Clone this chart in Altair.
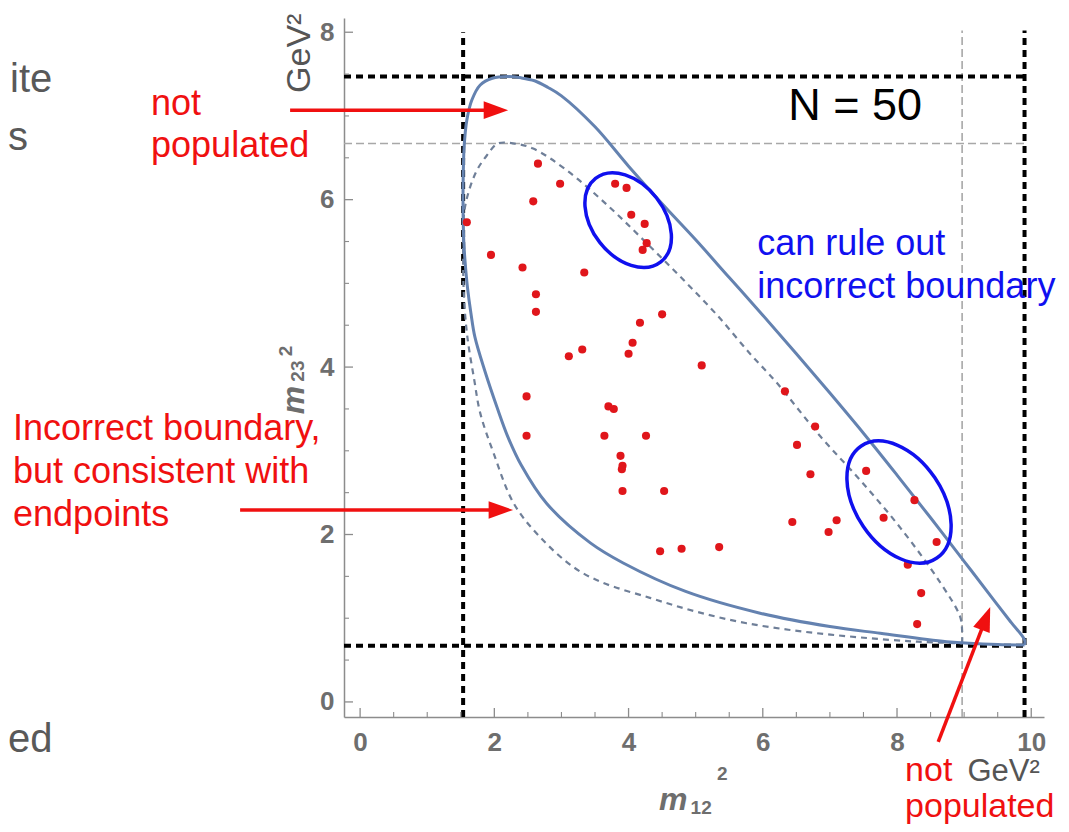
import altair as alt
import pandas as pd

# ---------------- data ----------------
# outer (solid) Dalitz boundary, traced around the contour
outer_x = [9.90, 9.90, 9.70, 9.44, 9.00, 8.50, 8.00, 7.50, 7.00, 6.50, 6.00, 5.50, 5.00, 4.50,
           4.00, 3.50, 3.00, 2.80, 2.60, 2.40, 2.20, 1.97, 1.79, 1.665, 1.59, 1.55, 1.535,
           1.535, 1.545, 1.565, 1.60, 1.65, 1.71, 1.86, 2.04, 2.20, 2.40, 2.78, 3.43, 3.92,
           4.85, 5.96, 7.00, 7.75, 8.74, 9.50, 9.90]
outer_y = [0.68, 0.74, 0.95, 1.22, 1.68, 2.20, 2.71, 3.21, 3.69, 4.16, 4.62, 5.07, 5.52, 5.95,
           6.40, 6.87, 7.24, 7.34, 7.42, 7.455, 7.47, 7.45, 7.37, 7.19, 6.95, 6.63, 6.20,
           5.80, 5.50, 5.25, 4.95, 4.65, 4.36, 3.95, 3.52, 3.17, 2.83, 2.37, 1.90, 1.66,
           1.32, 1.06, 0.90, 0.82, 0.72, 0.685, 0.68]

# inner (dashed) "incorrect" boundary
inner_x = [8.97, 8.97, 8.94, 8.64, 8.05, 7.45, 6.86, 6.20, 5.81, 5.32, 4.82, 4.32, 3.73, 3.08,
           2.58, 2.30, 2.05, 1.89, 1.74, 1.62, 1.55, 1.535, 1.55, 1.60, 1.70, 1.79, 1.99, 2.29,
           2.68, 3.18, 3.60, 4.33, 5.00, 5.76, 6.60, 7.46, 8.30, 8.97]
inner_y = [0.70, 0.85, 1.02, 1.43, 2.08, 2.65, 3.17, 3.82, 4.16, 4.62, 5.04, 5.44, 5.90, 6.35,
           6.61, 6.67, 6.67, 6.53, 6.35, 6.10, 5.84, 5.30, 4.80, 4.35, 3.85, 3.45, 2.97, 2.37,
           1.97, 1.61, 1.43, 1.24, 1.08, 0.94, 0.84, 0.77, 0.72, 0.70]

# N = 50 events
pts_x = [2.65, 2.98, 3.80, 3.97, 2.58, 4.04, 1.59, 4.24, 4.27, 4.21,
         1.95, 2.42, 3.34, 2.62, 2.62, 4.50, 4.17, 4.06, 4.00, 3.31,
         3.11, 5.09, 2.48, 3.70, 3.78, 2.48, 3.64, 4.26, 3.88, 3.91,
         3.91, 4.53, 4.47, 4.79, 5.35, 6.33, 6.78, 6.51, 6.71, 7.54,
         6.44, 7.10, 6.98, 8.26, 7.80, 8.59, 8.16, 8.36, 8.30, 3.90]
pts_y = [6.43, 6.19, 6.19, 6.14, 5.98, 5.82, 5.73, 5.71, 5.48, 5.40,
         5.34, 5.19, 5.13, 4.87, 4.66, 4.63, 4.53, 4.29, 4.16, 4.21,
         4.13, 4.02, 3.65, 3.53, 3.50, 3.18, 3.18, 3.18, 2.94, 2.82,
         2.52, 2.52, 1.80, 1.83, 1.85, 3.71, 3.29, 3.07, 2.72, 2.76,
         2.15, 2.17, 2.03, 2.41, 2.20, 1.91, 1.64, 1.30, 0.93, 2.78]

# kinematic endpoint lines
black_h_y = [7.47, 0.67]
black_v_x = [1.535, 9.90]
gray_h_y = [6.67]
gray_v_x = [8.97]

# axis tick values
x_labels = [0, 2, 4, 6, 8, 10]
y_labels = [0, 2, 4, 6, 8]
x_minor = [0.5, 1, 1.5, 2.5, 3, 3.5, 4.5, 5, 5.5, 6.5, 7, 7.5, 8.5, 9, 9.5]
y_minor = [0.5, 1, 1.5, 2.5, 3, 3.5, 4.5, 5, 5.5, 6.5, 7, 7.5]

# annotation texts (position in plot units)
red_text = ["not", "populated", "Incorrect boundary,", "but consistent with", "endpoints"]
red_tx = [-3.115, -3.115, -5.171, -5.171, -5.171]
red_ty = [7.009, 6.507, 3.128, 2.615, 2.101]
red2_text = ["not", "populated"]
red2_tx = [8.12, 8.12]
red2_ty = [-0.943, -1.373]
blue_text = ["can rule out", "incorrect boundary"]
blue_tx = [5.917, 5.917]
blue_ty = [5.337, 4.824]
frag_text = ["ite", "s", "ed"]
frag_tx = [-5.216, -5.246, -5.246]
frag_ty = [7.284, 6.591, -0.597]

# arrows: tail, shaft end, tip, head angle
arr_x1 = [-1.043, -1.788, 8.614]
arr_y1 = [7.069, 2.293, -0.478]
arr_x2 = [1.908, 1.982, 9.282]
arr_y2 = [7.069, 2.293, 0.911]
tip_x = [2.206, 2.280, 9.389]
tip_y = [7.069, 2.293, 1.134]
tip_ang = [0, 0, 291]

# ellipses highlighting points near the boundary
ell_x = [3.994, 8.03]
ell_y = [5.755, 2.388]

# ---------------- chart ----------------
XMIN, XMAX = -0.24, 10.19
YMIN, YMAX = -0.18, 8.17
XS = alt.Scale(domain=[XMIN, XMAX], nice=False, zero=False)
YS = alt.Scale(domain=[YMIN, YMAX], nice=False, zero=False)
FONT = "Liberation Sans"

axis_common = dict(
    ticks=False, grid=False, title=None, labelFont=FONT, labelFontSize=26,
    labelFontWeight="bold", labelColor="#6e6e6e", domainColor="#8c8c8c", domainWidth=1.5,
    labelOverlap=False, labelFlush=False, format="d",
)
XA = alt.Axis(values=x_labels, labelPadding=12, **axis_common)
YA = alt.Axis(values=y_labels, labelPadding=10, **axis_common)


def X(f):
    return alt.X(f, type="quantitative", scale=XS, axis=XA)


def Y(f):
    return alt.Y(f, type="quantitative", scale=YS, axis=YA)


outer = pd.DataFrame({"x": outer_x, "y": outer_y, "i": range(len(outer_x))})
inner = pd.DataFrame({"x": inner_x, "y": inner_y, "i": range(len(inner_x))})
pts = pd.DataFrame({"x": pts_x, "y": pts_y})

bh = pd.DataFrame({"y": black_h_y, "x1": [XMIN] * 2, "x2": [9.9] * 2})
bv = pd.DataFrame({"x": black_v_x, "y1": [YMIN] * 2, "y2": [8.0, 8.02]})
gh = pd.DataFrame({"y": gray_h_y, "x1": [XMIN], "x2": [9.9]})
gv = pd.DataFrame({"x": gray_v_x, "y1": [YMIN], "y2": [8.02]})

black_h = alt.Chart(bh).mark_rule(color="black", strokeWidth=4, strokeDash=[7, 5]).encode(
    x=X("x1"), x2="x2", y=Y("y"))
black_v = alt.Chart(bv).mark_rule(color="black", strokeWidth=4, strokeDash=[7, 5]).encode(
    x=X("x"), y=Y("y1"), y2="y2")
gray_h = alt.Chart(gh).mark_rule(color="#a8a8a8", strokeWidth=1.6, strokeDash=[8, 4]).encode(
    x=X("x1"), x2="x2", y=Y("y"))
gray_v = alt.Chart(gv).mark_rule(color="#a8a8a8", strokeWidth=1.6, strokeDash=[8, 4]).encode(
    x=X("x"), y=Y("y1"), y2="y2")

inner_line = alt.Chart(inner).mark_line(
    interpolate="catmull-rom", color="#6f7f98", strokeWidth=2.2, strokeDash=[6, 5]
).encode(x=X("x"), y=Y("y"), order=alt.Order("i:Q"))

outer_line = alt.Chart(outer).mark_line(
    interpolate="catmull-rom", color="#6482b0", strokeWidth=3
).encode(x=X("x"), y=Y("y"), order=alt.Order("i:Q"))

points = alt.Chart(pts).mark_circle(color="#e0161b", size=66, opacity=1).encode(
    x=X("x"), y=Y("y"))

# inward ticks
xt = pd.DataFrame({"v": x_labels})
xm = pd.DataFrame({"v": x_minor})
yt = pd.DataFrame({"v": y_labels})
ym = pd.DataFrame({"v": y_minor})
tick_col = "#8c8c8c"
x_major_ticks = alt.Chart(xt).mark_rule(color=tick_col, strokeWidth=1.3).encode(
    x=X("v"), y=alt.value(699), y2=alt.value(690))
x_minor_ticks = alt.Chart(xm).mark_rule(color=tick_col, strokeWidth=1.1).encode(
    x=X("v"), y=alt.value(699), y2=alt.value(694))
y_major_ticks = alt.Chart(yt).mark_rule(color=tick_col, strokeWidth=1.3).encode(
    y=Y("v"), x=alt.value(0), x2=alt.value(9))
y_minor_ticks = alt.Chart(ym).mark_rule(color=tick_col, strokeWidth=1.1).encode(
    y=Y("v"), x=alt.value(0), x2=alt.value(5))


def ellipse_path(ratio):
    k = 0.5523
    b = ratio
    return (f"M 1 0 C 1 {k*b:.4f} {k:.4f} {b} 0 {b} "
            f"C {-k:.4f} {b} -1 {k*b:.4f} -1 0 "
            f"C -1 {-k*b:.4f} {-k:.4f} {-b} 0 {-b} "
            f"C {k:.4f} {-b} 1 {-k*b:.4f} 1 0 Z")


e1 = pd.DataFrame({"x": ell_x[:1], "y": ell_y[:1]})
e2 = pd.DataFrame({"x": ell_x[1:], "y": ell_y[1:]})
ell1 = alt.Chart(e1).mark_point(
    shape=ellipse_path(0.68), size=11236, angle=52, filled=False, color="#1010ee",
    strokeWidth=3.5, opacity=1).encode(x=X("x"), y=Y("y"))
ell2 = alt.Chart(e2).mark_point(
    shape=ellipse_path(0.64), size=18279, angle=56, filled=False, color="#1010ee",
    strokeWidth=3.5, opacity=1).encode(x=X("x"), y=Y("y"))

arr = pd.DataFrame({"x1": arr_x1, "y1": arr_y1, "x2": arr_x2, "y2": arr_y2})
tips = pd.DataFrame({"x": tip_x, "y": tip_y, "a": tip_ang})
shafts = alt.Chart(arr).mark_rule(color="#f01010", strokeWidth=3.5).encode(
    x=X("x1"), y=Y("y1"), x2="x2", y2="y2")
heads = alt.Chart(tips).mark_point(
    shape="M 0 0 L -2 -0.72 L -2 0.72 Z", size=600, filled=True, color="#f01010",
    opacity=1, strokeWidth=0).encode(
    x=X("x"), y=Y("y"), angle=alt.Angle("a:Q", scale=None))

red = pd.DataFrame({"t": red_text, "x": red_tx, "y": red_ty})
red_layer = alt.Chart(red).mark_text(
    align="left", baseline="alphabetic", font=FONT, fontSize=36, color="#f01010").encode(
    x=X("x"), y=Y("y"), text="t:N")
red2 = pd.DataFrame({"t": red2_text, "x": red2_tx, "y": red2_ty})
red2_layer = alt.Chart(red2).mark_text(
    align="left", baseline="alphabetic", font=FONT, fontSize=34, color="#f01010",
    lineHeight=34).encode(x=X("x"), y=Y("y"), text="t:N")
blue = pd.DataFrame({"t": blue_text, "x": blue_tx, "y": blue_ty})
blue_layer = alt.Chart(blue).mark_text(
    align="left", baseline="alphabetic", font=FONT, fontSize=36, color="#1010f0").encode(
    x=X("x"), y=Y("y"), text="t:N")
frag = pd.DataFrame({"t": frag_text, "x": frag_tx, "y": frag_ty})
frag_layer = alt.Chart(frag).mark_text(
    align="left", baseline="alphabetic", font=FONT, fontSize=40, color="#595959").encode(
    x=X("x"), y=Y("y"), text="t:N")

n_df = pd.DataFrame({"t": ["N = 50"], "x": [7.377], "y": [6.949]})
n_layer = alt.Chart(n_df).mark_text(
    align="center", baseline="alphabetic", font=FONT, fontSize=45, color="black").encode(
    x=X("x"), y=Y("y"), text="t:N")

gev_b = pd.DataFrame({"t": ["GeV²"], "x": [9.05], "y": [-0.943]})
gev_b_layer = alt.Chart(gev_b).mark_text(
    align="left", baseline="alphabetic", font=FONT, fontSize=31, color="#555555").encode(
    x=X("x"), y=Y("y"), text="t:N")
gev_t = pd.DataFrame({"t": ["GeV²"], "x": [-0.894], "y": [7.749]})
gev_t_layer = alt.Chart(gev_t).mark_text(
    align="center", baseline="middle", font=FONT, fontSize=34, color="#555555",
    angle=270).encode(x=X("x"), y=Y("y"), text="t:N")

# axis titles m12^2 and m23^2
tcol = "#6e6e6e"
xm_df = pd.DataFrame({"t": ["m"], "x": [4.665], "y": [-1.170]})
xs_df = pd.DataFrame({"t": ["12"], "x": [5.082], "y": [-1.266]})
xp_df = pd.DataFrame({"t": ["2"], "x": [5.395], "y": [-0.860]})
ym_df = pd.DataFrame({"t": ["m"], "x": [-0.983], "y": [3.606]})
ys_df = pd.DataFrame({"t": ["23"], "x": [-0.924], "y": [3.952]})
yp_df = pd.DataFrame({"t": ["2"], "x": [-1.103], "y": [4.191]})


def tlayer(df, size, italic=False, angle=0):
    kw = dict(align="center", baseline="middle", font=FONT, fontSize=size,
              fontWeight="bold", color=tcol)
    if italic:
        kw["fontStyle"] = "italic"
    if angle:
        kw["angle"] = angle
    return alt.Chart(df).mark_text(**kw).encode(x=X("x"), y=Y("y"), text="t:N")


titles = [
    tlayer(xm_df, 32, italic=True), tlayer(xs_df, 19), tlayer(xp_df, 19),
    tlayer(ym_df, 32, italic=True, angle=270), tlayer(ys_df, 19, angle=270),
    tlayer(yp_df, 19, angle=270),
]

chart = alt.layer(
    gray_h, gray_v, black_h, black_v, inner_line, outer_line, points,
    x_major_ticks, x_minor_ticks, y_major_ticks, y_minor_ticks,
    ell1, ell2, shafts, heads, red_layer, red2_layer, blue_layer, frag_layer, n_layer,
    gev_b_layer, gev_t_layer, *titles,
).properties(
    width=700, height=699,
    autosize=alt.AutoSizeParams(type="none"),
    padding={"left": 336, "top": 10, "right": 17, "bottom": 107},
).configure_view(stroke=None)

chart.save("out.html", embed_options={"renderer": "svg", "actions": False})
